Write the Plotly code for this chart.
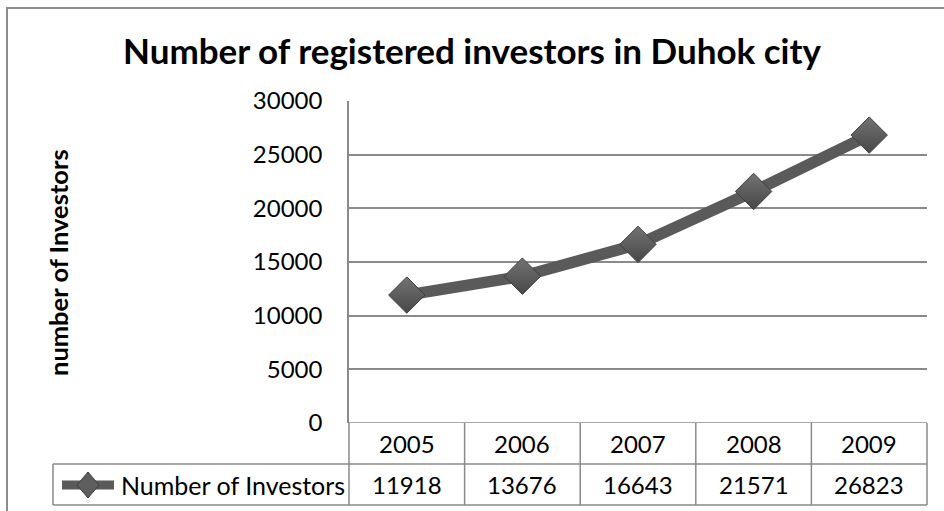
import plotly.graph_objects as go

# ---- data ----
years = ["2005", "2006", "2007", "2008", "2009"]
investors = [11918, 13676, 16643, 21571, 26823]
series_name = "Number of Investors"
y_ticks = [0, 5000, 10000, 15000, 20000, 25000, 30000]
chart_title = "Number of registered investors in Duhok city"
y_title = "number of Investors"

# ---- layout geometry (pixels) ----
W, H = 944, 511
L, R, T, B = 349, 17, 101, 88
PW, PH = W - L - R, H - T - B

def px(x):  # pixel x -> paper x
    return (x - L) / PW

def py(y):  # pixel y -> paper y
    return (H - B - y) / PH

FONT = "Lato"
GRID = "#8a8a8a"
LINE_C = "#5a5a5a"
FS = 24

fig = go.Figure()
fig.add_trace(go.Scatter(
    x=years, y=investors, name=series_name, mode="lines+markers",
    line=dict(color=LINE_C, width=11.5),
    marker=dict(symbol="diamond", size=28, color="#737373",
                gradient=dict(type="vertical", color="#474747"),
                line=dict(color="#3f3f3f", width=1)),
    showlegend=False, cliponaxis=False,
))

shapes = []
# outer chart border (left/top visible)
shapes.append(dict(type="rect", xref="paper", yref="paper",
                   x0=px(7), x1=px(W + 20), y0=py(H + 20), y1=py(8),
                   line=dict(color="#8c8c8c", width=2), layer="below"))
# top of data table (value 0 line)
shapes.append(dict(type="line", xref="paper", yref="y", x0=0, x1=1, y0=0, y1=0,
                   line=dict(color=GRID, width=1.5)))
# data table rows
row_div, row_bot = py(464), py(505)
for yy in (row_div, row_bot):
    shapes.append(dict(type="line", xref="paper", yref="paper",
                       x0=px(53), x1=1, y0=yy, y1=yy,
                       line=dict(color=GRID, width=1.5)))
# vertical separators
shapes.append(dict(type="line", xref="paper", yref="paper", x0=px(53), x1=px(53),
                   y0=row_bot, y1=row_div, line=dict(color=GRID, width=1.5)))
shapes.append(dict(type="line", xref="paper", yref="paper", x0=0, x1=0,
                   y0=row_bot, y1=0, line=dict(color=GRID, width=1.5)))
shapes.append(dict(type="line", xref="paper", yref="paper", x0=1, x1=1,
                   y0=row_bot, y1=0, line=dict(color=GRID, width=1.5)))
for i in range(len(years) - 1):
    shapes.append(dict(type="line", xref="x", yref="paper", x0=i + 0.5, x1=i + 0.5,
                       y0=row_bot, y1=0, line=dict(color=GRID, width=1.5)))
# legend key in the table
ky = py(485)
shapes.append(dict(type="line", xref="paper", yref="paper", x0=px(62), x1=px(114),
                   y0=ky, y1=ky, line=dict(color=LINE_C, width=9)))
kx, kw, kh = px(88), 11 / PW, 13 / PH
shapes.append(dict(type="path", xref="paper", yref="paper",
                   path=f"M {kx-kw} {ky} L {kx} {ky+kh} L {kx+kw} {ky} L {kx} {ky-kh} Z",
                   fillcolor="#5e5e5e", line=dict(color="#3f3f3f", width=1)))

annotations = []
for i, (yr, v) in enumerate(zip(years, investors)):
    annotations.append(dict(x=i, xref="x", y=(0 + row_div) / 2, yref="paper",
                            text=yr, showarrow=False, xanchor="center", yanchor="middle",
                            font=dict(family=FONT, size=FS, color="black")))
    annotations.append(dict(x=i, xref="x", y=(row_div + row_bot) / 2, yref="paper",
                            text=str(v), showarrow=False, xanchor="center", yanchor="middle",
                            font=dict(family=FONT, size=FS, color="black")))
annotations.append(dict(x=px(119), xref="paper", y=(row_div + row_bot) / 2, yref="paper",
                        text=series_name, showarrow=False, xanchor="left", yanchor="middle",
                        font=dict(family=FONT, size=25, color="black")))
annotations.append(dict(x=px(58), xref="paper", y=py(262), yref="paper",
                        text=f"<b>{y_title}</b>", textangle=-90, showarrow=False,
                        xanchor="center", yanchor="middle",
                        font=dict(family=FONT, size=25.5, color="black")))

fig.update_layout(
    width=W, height=H,
    margin=dict(l=L, r=R, t=T, b=B, pad=0),
    paper_bgcolor="white", plot_bgcolor="white",
    title=dict(text=f"<b>{chart_title}</b>", x=0.5, xanchor="center",
               y=1 - 52 / H, yanchor="middle",
               font=dict(family=FONT, size=35, color="black")),
    xaxis=dict(type="category", range=[-0.5, 4.5], showgrid=False, showline=False,
               showticklabels=False, ticks="", zeroline=False),
    yaxis=dict(range=[0, 30000], tickvals=y_ticks, ticktext=[str(t) for t in y_ticks],
               showgrid=True, gridcolor=GRID, gridwidth=1.5,
               showline=True, linecolor=GRID, linewidth=1.5, zeroline=False,
               ticks="", ticklabelstandoff=20,
               tickfont=dict(family=FONT, size=FS, color="black")),
    shapes=shapes, annotations=annotations,
    showlegend=False,
)

fig.write_html("out.html", config={"displayModeBar": False},
               post_script="document.body.style.margin='0';")
